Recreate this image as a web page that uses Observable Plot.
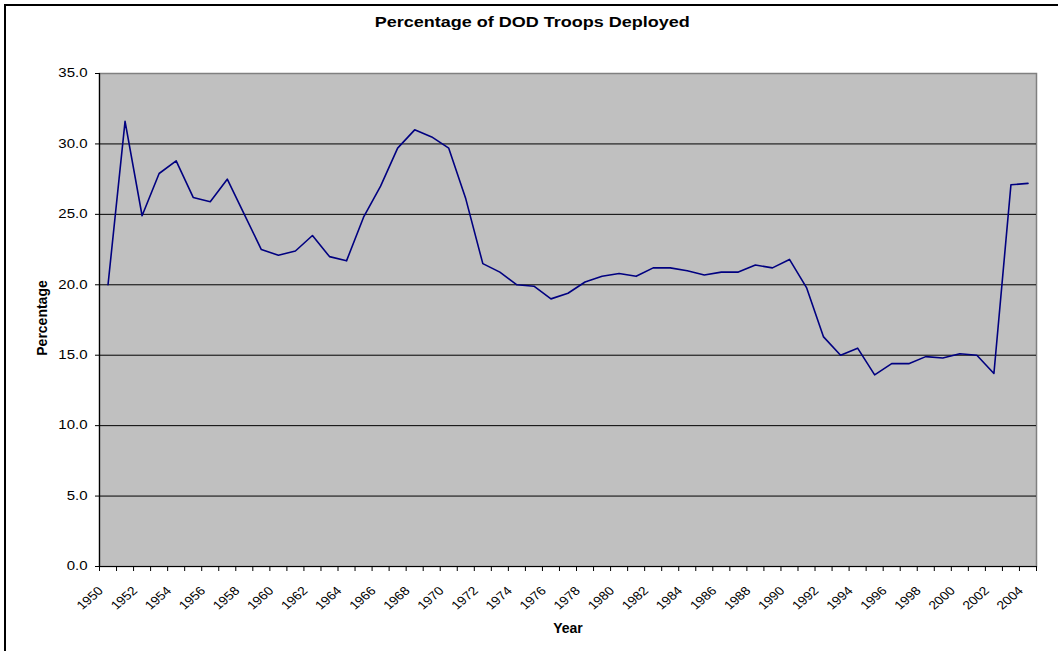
<!DOCTYPE html>
<html><head><meta charset="utf-8">
<script src="https://cdn.jsdelivr.net/npm/d3@7"></script>
<script src="https://cdn.jsdelivr.net/npm/@observablehq/plot@0.6"></script>
<style>
body{margin:0;background:#fff;}
#wrap{position:relative;width:1058px;height:651px;overflow:hidden;font-family:"Liberation Sans",Arial,sans-serif;color:#000;background:#fff;}
#border{position:absolute;left:4px;top:4px;width:1200px;height:800px;border-left:2px solid #000;border-top:2px solid #000;box-sizing:border-box;}
#title{position:absolute;left:0;width:1064px;top:13px;text-align:center;font-weight:bold;font-size:15px;line-height:18px;}
#title span{display:inline-block;transform:scaleX(1.2);}
#ylab{position:absolute;left:42px;top:318px;font-weight:bold;font-size:14px;white-space:nowrap;transform:translate(-50%,-50%) rotate(-90deg);}
#xlab{position:absolute;left:568px;top:628px;font-weight:bold;font-size:14px;white-space:nowrap;transform:translate(-50%,-50%);}
#chart{position:absolute;left:0;top:0;}
</style>
</head><body>
<div id="wrap">
  <div id="chart"></div>
  <div id="border"></div>
  <div id="title"><span>Percentage of DOD Troops Deployed</span></div>
  <div id="ylab">Percentage</div>
  <div id="xlab">Year</div>
</div>
<script>
const years = [1950,1951,1952,1953,1954,1955,1956,1957,1958,1959,
  1960,1961,1962,1963,1964,1965,1966,1967,1968,1969,
  1970,1971,1972,1973,1974,1975,1976,1977,1978,1979,
  1980,1981,1982,1983,1984,1985,1986,1987,1988,1989,
  1990,1991,1992,1993,1994,1995,1996,1997,1998,1999,
  2000,2001,2002,2003,2004];
const percentage = [20.0,31.6,24.9,27.9,28.8,26.2,25.9,27.5,25.0,22.5,
  22.1,22.4,23.5,22.0,21.7,24.8,27.0,29.7,31.0,30.5,
  29.7,26.1,21.5,20.9,20.0,19.9,19.0,19.4,20.2,20.6,
  20.8,20.6,21.2,21.2,21.0,20.7,20.9,20.9,21.4,21.2,
  21.8,19.8,16.3,15.0,15.5,13.6,14.4,14.4,14.9,14.8,
  15.1,15.0,13.7,27.1,27.2];
const yTicks = [0,5,10,15,20,25,30,35];
const xTickLabels = years.filter(y => y % 2 === 0);

const data = years.map((year, i) => ({year, pct: percentage[i]}));
const bounds = years.map(y => y - 0.5).concat([years[years.length - 1] + 0.5]);

const chart = Plot.plot({
  width: 1058, height: 651,
  marginLeft: 99, marginRight: 22, marginTop: 73, marginBottom: 85,
  style: {fontFamily: '"Liberation Sans", Arial, sans-serif', fontSize: "12px", color: "#000", background: "transparent"},
  x: {type: "linear", domain: [bounds[0], bounds[bounds.length - 1]]},
  y: {domain: [0, 35]},
  marks: [
    Plot.frame({fill: "#c0c0c0", stroke: "#808080", strokeWidth: 1.5}),
    Plot.ruleY(yTicks.filter(v => v > 0 && v < 35), {stroke: "#000", strokeWidth: 1}),
    Plot.ruleY([0], {stroke: "#000", strokeWidth: 1.2}),
    Plot.ruleX([bounds[0]], {stroke: "#000", strokeWidth: 1.2}),
    Plot.axisY({ticks: yTicks, tickSize: 4, tickPadding: 8, tickFormat: d3.format(".1f"), label: null, fontSize: 12}),
    Plot.axisX({ticks: bounds, tickSize: 5, tickFormat: () => "", label: null}),
    Plot.text(xTickLabels, {x: d => d, text: d => String(d), frameAnchor: "bottom", rotate: -45, textAnchor: "end", lineAnchor: "bottom", dx: -4, dy: 25, fontSize: 12}),
    Plot.line(data, {x: "year", y: "pct", stroke: "#000080", strokeWidth: 1.6})
  ]
});
document.getElementById("chart").appendChild(chart);

// horizontal stretch of label glyphs, as in the reference image
function stretchNode(node, S) {
  const t = node.getAttribute("transform");
  if (t && /^translate\(/.test(t)) {
    node.setAttribute("transform", t.replace(/^(translate\([^)]*\))/, `$1 scale(${S},1)`));
  } else {
    const x = +node.getAttribute("x") || 0, y = +node.getAttribute("y") || 0;
    node.removeAttribute("x"); node.removeAttribute("y");
    node.setAttribute("transform", `translate(${x},${y}) scale(${S},1)` + (t ? " " + t : ""));
  }
}
chart.querySelectorAll("text").forEach(node => {
  const t = node.getAttribute("transform") || "";
  const g = node.closest("g[aria-label]");
  const lab = g ? g.getAttribute("aria-label") : "";
  if (/rotate\(-45\)/.test(t)) stretchNode(node, 1.15);
  else if (/y-axis tick label/.test(lab)) stretchNode(node, 1.25);
});
</script>
</body></html>
